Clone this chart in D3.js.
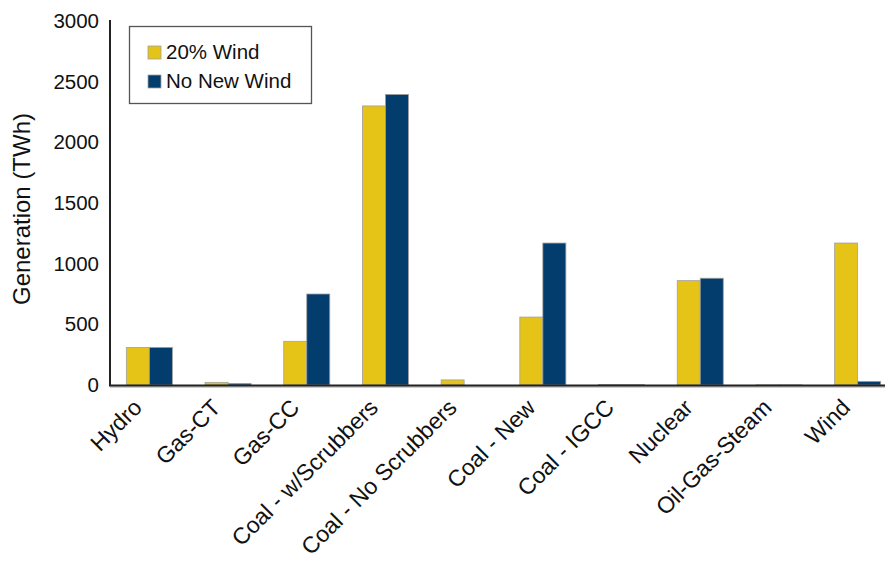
<!DOCTYPE html>
<html>
<head>
<meta charset="utf-8">
<script src="https://cdn.jsdelivr.net/npm/d3@7"></script>
<style>
  body { margin: 0; background: #fff; }
  svg { display: block; font-family: Arial, "Liberation Sans", sans-serif; }
</style>
</head>
<body>
<div id="chart"></div>
<script>
// Chart data
const categories = ["Hydro", "Gas-CT", "Gas-CC", "Coal - w/Scrubbers", "Coal - No Scrubbers",
    "Coal - New", "Coal - IGCC", "Nuclear", "Oil-Gas-Steam", "Wind"];
const seriesNames = ["20% Wind", "No New Wind"];
const wind20 = [310, 22, 360, 2300, 42, 560, 5, 860, 1, 1170];
const noNewWind = [310, 13, 750, 2395, 0, 1170, 3, 880, 1, 30];
const yTicks = [0, 500, 1000, 1500, 2000, 2500, 3000];

const width = 885;
const height = 562;
const colors = ["#e6c317", "#023d6e"];
const font = "Arial, 'Liberation Sans', sans-serif";

const rows = categories.map((c, i) => ({ category: c, values: [wind20[i], noNewWind[i]] }));

const svg = d3.select("#chart")
    .append("svg")
    .attr("width", width)
    .attr("height", height);

// Scales
const x = d3.scaleBand()
    .domain(categories)
    .range([110, 897])
    .paddingInner(0.415)
    .paddingOuter(0.2075);

const xSeries = d3.scaleBand()
    .domain(seriesNames)
    .range([0, x.bandwidth()]);

const y = d3.scaleLinear()
    .domain([0, 3000])
    .range([385, 21]);

// Bars
const groups = svg.selectAll(".group")
    .data(rows)
    .enter()
    .append("g")
    .attr("class", "group")
    .attr("transform", d => `translate(${x(d.category)},0)`);

groups.selectAll("rect")
    .data(d => d.values.map((v, i) => ({ series: seriesNames[i], value: v, idx: i })))
    .enter()
    .append("rect")
    .attr("x", d => xSeries(d.series))
    .attr("y", d => y(d.value))
    .attr("width", xSeries.bandwidth())
    .attr("height", d => y(0) - y(d.value))
    .attr("fill", d => colors[d.idx])
    .attr("stroke", "#a0a0a0")
    .attr("stroke-width", 0.8);

// Y axis (labels only, plus line)
const yAxis = svg.append("g")
    .attr("transform", "translate(110,0)")
    .call(d3.axisLeft(y).tickValues(yTicks).tickFormat(d3.format("d")).tickSize(0).tickPadding(11));
yAxis.select(".domain").remove();
yAxis.selectAll("text")
    .attr("font-size", 20.5)
    .attr("fill", "#111")
    .style("font-family", font);

svg.append("line")
    .attr("x1", 110).attr("x2", 110)
    .attr("y1", 20).attr("y2", 386)
    .attr("stroke", "#222")
    .attr("stroke-width", 2);

// X axis
svg.append("line")
    .attr("x1", 110).attr("x2", width)
    .attr("y1", 387).attr("y2", 387)
    .attr("stroke", "#bbb")
    .attr("stroke-width", 1.5);
svg.append("line")
    .attr("x1", 109).attr("x2", width)
    .attr("y1", 385.5).attr("y2", 385.5)
    .attr("stroke", "#222")
    .attr("stroke-width", 2);

const xAxis = svg.append("g")
    .attr("transform", "translate(0,385)")
    .call(d3.axisBottom(x).tickSize(0).tickPadding(0));
xAxis.select(".domain").remove();
xAxis.selectAll("text")
    .attr("font-size", 23)
    .attr("fill", "#111")
    .style("font-family", font)
    .attr("text-anchor", "end")
    .attr("dy", 0)
    .attr("y", 0)
    .attr("transform", "translate(-6,24) rotate(-45)");

// Y axis title
svg.append("text")
    .attr("transform", "translate(30,209) rotate(-90)")
    .attr("text-anchor", "middle")
    .attr("font-size", 24)
    .attr("fill", "#111")
    .text("Generation (TWh)");

// Legend
const legend = svg.append("g");
legend.append("rect")
    .attr("x", 129.5).attr("y", 26.5)
    .attr("width", 182).attr("height", 77)
    .attr("fill", "#fff")
    .attr("stroke", "#555")
    .attr("stroke-width", 1.3);

seriesNames.forEach((name, i) => {
    legend.append("rect")
        .attr("x", 148).attr("y", 46 + i * 29)
        .attr("width", 13).attr("height", 13)
        .attr("fill", colors[i])
        .attr("stroke", "#a0a0a0")
        .attr("stroke-width", 0.8);
    legend.append("text")
        .attr("x", 166).attr("y", 59 + i * 29)
        .attr("font-size", 20.5)
        .attr("fill", "#111")
        .text(name);
});
</script>
</body>
</html>
